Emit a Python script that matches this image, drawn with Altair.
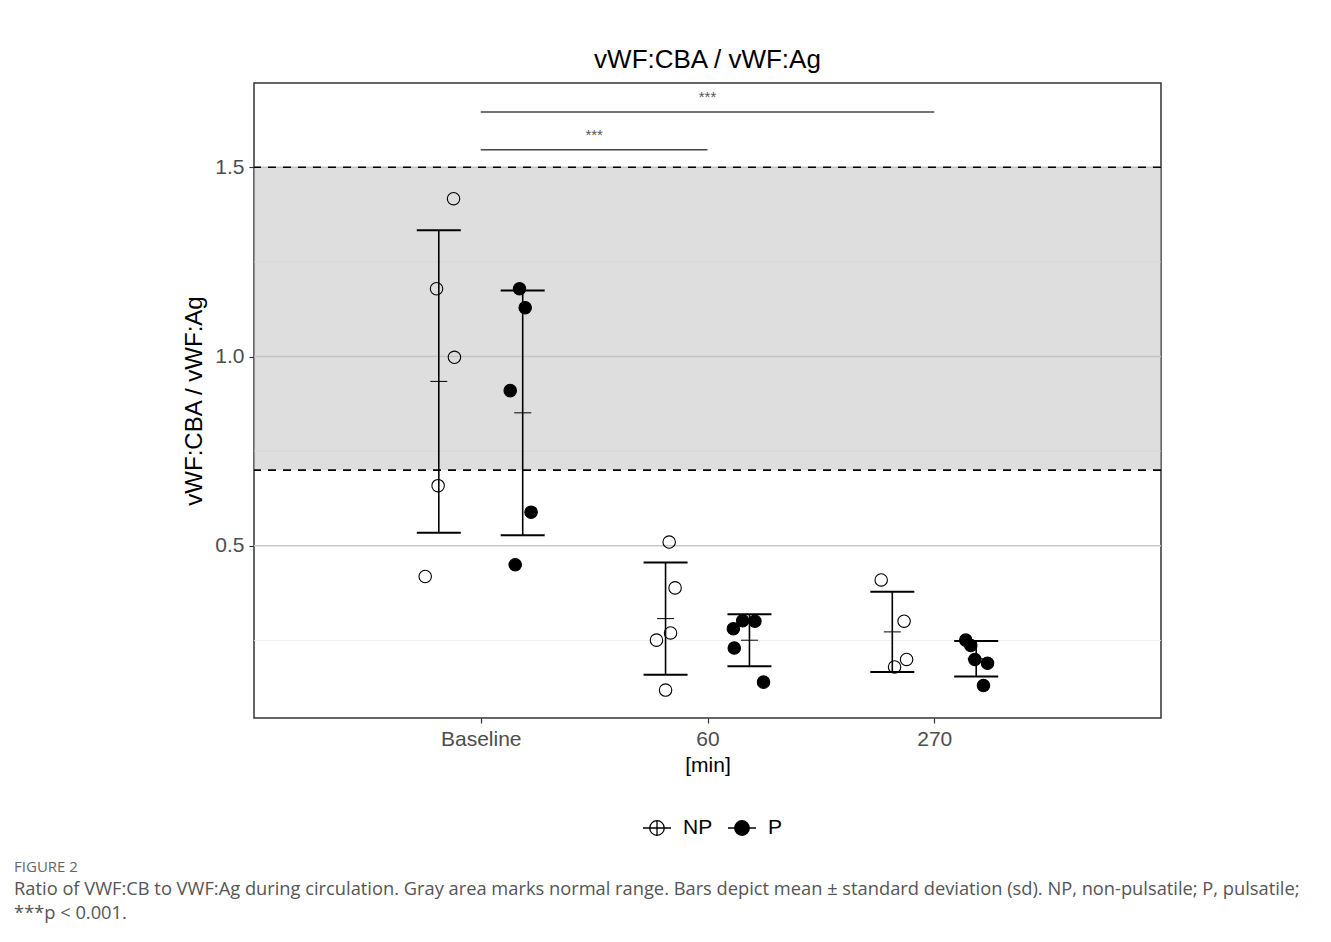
import altair as alt
import pandas as pd

# ---------------- data ----------------
times = ["Baseline", "60", "270"]
groups = ["NP", "P"]

np_vals = [
    [1.417, 1.179, 0.998, 0.659, 0.419],
    [0.510, 0.389, 0.270, 0.251, 0.119],
    [0.410, 0.301, 0.200, 0.180],
]
np_jit = [
    [0.065, -0.010, 0.069, -0.003, -0.060],
    [0.016, 0.042, 0.022, -0.040, 0.000],
    [-0.049, 0.052, 0.063, 0.010],
]
p_vals = [
    [1.179, 1.129, 0.910, 0.589, 0.450],
    [0.281, 0.302, 0.301, 0.230, 0.140],
    [0.251, 0.237, 0.200, 0.190, 0.131],
]
p_jit = [
    [-0.014, 0.011, -0.055, 0.037, -0.033],
    [-0.071, -0.030, 0.024, -0.067, 0.062],
    [-0.046, -0.024, -0.006, 0.050, 0.032],
]
normal_range = [0.7, 1.5]
sig_from = ["Baseline", "Baseline"]
sig_to = ["60", "270"]
sig_y = [1.546, 1.646]
sig_label = ["***", "***"]

major_breaks = [0.5, 1.0, 1.5]
minor_breaks = [0.25, 0.75, 1.25]

caption_head = "FIGURE 2"
caption_lines = [
    "Ratio of VWF:CB to VWF:Ag during circulation. Gray area marks normal range. Bars depict mean \u00b1 standard deviation (sd). NP, non-pulsatile; P, pulsatile;",
    "***p < 0.001.",
]

# ---------------- tables ----------------
rows = []
for gname, vals, jits in (("NP", np_vals, np_jit), ("P", p_vals, p_jit)):
    for ti, (vs, js) in enumerate(zip(vals, jits)):
        for v, j in zip(vs, js):
            rows.append({"t": ti + 1, "time": times[ti], "group": gname, "value": v, "jit": j})
pts = pd.DataFrame(rows)

band_df = pd.DataFrame({"lo": [normal_range[0]], "hi": [normal_range[1]]})
dash_df = pd.DataFrame({"y": normal_range})
major_df = pd.DataFrame({"y": major_breaks})
minor_df = pd.DataFrame({"y": minor_breaks})
sig_df = pd.DataFrame({
    "x1": [times.index(a) + 1 for a in sig_from],
    "x2": [times.index(b) + 1 for b in sig_to],
    "y": sig_y,
    "label": sig_label,
})
sig_df["xm"] = (sig_df["x1"] + sig_df["x2"]) / 2

W, H = 907, 635
DODGE = 0.185
FONT = "Liberation Sans"

xscale = alt.Scale(domain=[0, 4], nice=False, zero=False)
yscale = alt.Scale(domain=[0.0453, 1.7226], nice=False, zero=False)

label_expr = "[" + ",".join("'" + t + "'" for t in times) + "][datum.value - 1]"

xaxis = alt.Axis(values=[1, 2, 3], labelExpr=label_expr, title="[min]", grid=False)
yaxis = alt.Axis(values=major_breaks, format=".1f", title="vWF:CBA / vWF:Ag", grid=False)

minor = alt.Chart(minor_df).mark_rule(color="#ebebeb", strokeWidth=0.8).encode(
    y=alt.Y("y:Q", scale=yscale, axis=yaxis)
)
major = alt.Chart(major_df).mark_rule(color="#c9c9c9", strokeWidth=1.5).encode(
    y=alt.Y("y:Q", scale=yscale)
)
band = alt.Chart(band_df).mark_rect(color="#bebebe", opacity=0.5).encode(
    y=alt.Y("lo:Q", scale=yscale), y2="hi:Q"
)
dashes = alt.Chart(dash_df).mark_rule(color="black", strokeWidth=1.6, strokeDash=[8, 7]).encode(
    y=alt.Y("y:Q", scale=yscale)
)
sig_lines = alt.Chart(sig_df).mark_rule(color="#444444", strokeWidth=1.5).encode(
    x=alt.X("x1:Q", scale=xscale, axis=xaxis), x2="x2:Q", y=alt.Y("y:Q", scale=yscale)
)
sig_text = alt.Chart(sig_df).mark_text(
    font=FONT, fontSize=15, color="#555555", baseline="alphabetic", dy=-10
).encode(x=alt.X("xm:Q", scale=xscale), y=alt.Y("y:Q", scale=yscale), text="label:N")

base_err = alt.Chart(pts).transform_aggregate(
    mean="mean(value)", sd="stdev(value)", groupby=["t", "group"]
).transform_calculate(
    lo="datum.mean - datum.sd",
    hi="datum.mean + datum.sd",
    xc=f"datum.t + (datum.group == 'NP' ? {-DODGE} : {DODGE})",
)
err_rule = base_err.mark_rule(color="black", strokeWidth=1.6).encode(
    x=alt.X("xc:Q", scale=xscale), y=alt.Y("lo:Q", scale=yscale), y2="hi:Q"
)
cap_lo = base_err.mark_tick(orient="horizontal", size=44, thickness=2, color="black", opacity=1).encode(
    x=alt.X("xc:Q", scale=xscale), y=alt.Y("lo:Q", scale=yscale)
)
cap_hi = base_err.mark_tick(orient="horizontal", size=44, thickness=2, color="black", opacity=1).encode(
    x=alt.X("xc:Q", scale=xscale), y=alt.Y("hi:Q", scale=yscale)
)
mean_tick = base_err.mark_tick(orient="horizontal", size=17, thickness=1, color="black", opacity=1).encode(
    x=alt.X("xc:Q", scale=xscale), y=alt.Y("mean:Q", scale=yscale)
)

legend_path = ("M-0.52,0A0.52,0.52,0,1,1,0.52,0A0.52,0.52,0,1,1,-0.52,0Z "
               "M-1,0L1,0 M0,-0.52L0,0.52")

points = alt.Chart(pts).transform_calculate(
    xp=f"datum.t + (datum.group == 'NP' ? {-DODGE} : {DODGE}) + datum.jit"
).mark_point(filled=True, size=155, stroke="black", strokeWidth=1.1, opacity=1).encode(
    x=alt.X("xp:Q", scale=xscale),
    y=alt.Y("value:Q", scale=yscale),
    fill=alt.Fill(
        "group:N",
        scale=alt.Scale(domain=groups, range=["transparent", "black"]),
        legend=alt.Legend(
            title=None, orient="none", legendX=388, legendY=730, direction="horizontal",
            symbolType=legend_path, symbolSize=784, symbolStrokeColor="black",
            symbolStrokeWidth=1.3, labelFontSize=21, labelColor="black", labelFont=FONT,
            labelOffset=11, columnPadding=12, padding=0,
        ),
    ),
)

plot = alt.layer(
    minor, major, band, dashes, sig_lines, sig_text,
    err_rule, cap_lo, cap_hi, mean_tick, points,
).properties(
    width=W, height=H,
    title=alt.TitleParams("vWF:CBA / vWF:Ag", fontSize=26, font=FONT, color="black",
                          fontWeight="normal", anchor="middle", offset=10),
)

chart = alt.vconcat(plot).properties(
    title=alt.TitleParams(
        caption_head, subtitle=caption_lines, orient="bottom", anchor="start", frame="bounds",
        font="Open Sans", fontSize=15, color="#666666", fontWeight="normal",
        subtitleFont="Open Sans", subtitleFontSize=18.3, subtitleColor="#555555",
        subtitleLineHeight=24, subtitlePadding=6, offset=22, dx=-168,
    ),
    padding={"left": 14, "top": 46, "right": 0, "bottom": 0},
).configure_view(
    stroke="#333333", strokeWidth=1.5
).configure_axis(
    labelFont=FONT, labelFontSize=21, labelColor="#4d4d4d", tickColor="#333333",
    tickSize=5, tickWidth=1.2, domain=False, labelPadding=5,
    titleFont=FONT, titleFontSize=24, titleFontWeight="normal", titleColor="black",
).configure_axisX(titlePadding=5, titleFontSize=21).configure_axisY(titlePadding=8)

chart.save("out.html", embed_options={"renderer": "svg", "actions": False})
